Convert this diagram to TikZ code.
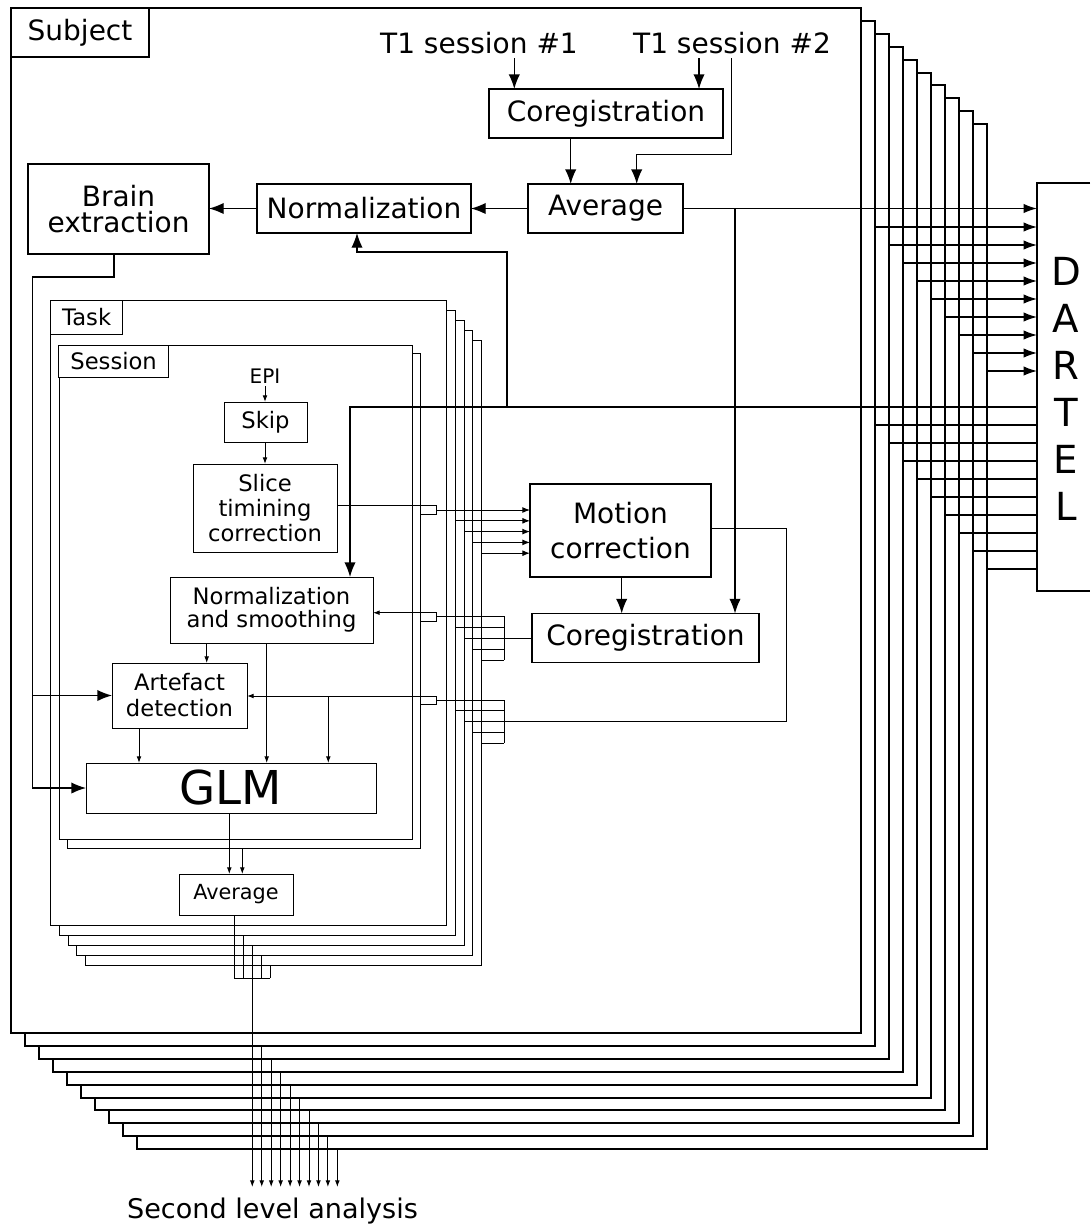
\documentclass[tikz,border=0pt]{standalone}
\usepackage{fontspec}
\setmainfont{DejaVu Sans}
\usetikzlibrary{arrows.meta}
\begin{document}
\begin{tikzpicture}[x=0.75pt,y=-0.75pt,
  every node/.style={inner sep=0pt,outer sep=0pt},
  mainfont/.style={font=\fontsize{21}{25}\selectfont},
  smallfont/.style={font=\fontsize{17}{19}\selectfont},
  bigbox/.style={draw,line width=1.2pt,fill=white,mainfont,align=center},
  smallbox/.style={draw,line width=0.75pt,fill=white,smallfont,align=center},
  subjframe/.style={draw,line width=1.5pt,fill=white},
  thinframe/.style={draw,line width=0.75pt,fill=white},
  conn/.style={line width=1pt},
  tconn/.style={line width=0.75pt},
  bigarr/.style={conn,-{Latex[length=11pt,width=8.5pt]}},
  darr/.style={conn,-{Latex[length=10pt,width=7pt]}},
  smarr/.style={tconn,-{Latex[length=5pt,width=3.6pt]}},
  medarr/.style={tconn,-{Latex[length=5.8pt,width=4.5pt]}},
]
\useasboundingbox (0,0) rectangle (1090,1228);

% subject frames
\foreach \k in {9,8,...,0}
  \draw[subjframe] ({11+14*\k},{8+12.9*\k}) rectangle ({861+14*\k},{1033+12.9*\k});
\node[draw,line width=1.5pt,fill=white,mainfont,minimum width=103.5pt,minimum height=36.75pt] (subj) at (80,32.5) {Subject};

\node[mainfont,anchor=base,inner sep=3.5pt] (t1a) at (479,53) {T1 session \#1};
\node[mainfont,anchor=base,inner sep=3.5pt] (t1b) at (732,53) {T1 session \#2};

\node[bigbox,minimum width=175.5pt,minimum height=36.75pt] (coreg1) at (606,113.5) {Coregistration};
\node[bigbox,minimum width=116.25pt,minimum height=36.75pt] (avg1) at (605.5,208.5) {Average};
\node[bigbox,minimum width=160.5pt,minimum height=36.75pt] (norm1) at (364,208.5) {Normalization};
\node[bigbox,font=\fontsize{21}{20}\selectfont,minimum width=135.75pt,minimum height=67.5pt] (brain) at (118.5,209) {Brain\\extraction};
\node[bigbox,font=\fontsize{21}{26}\selectfont,minimum width=135.75pt,minimum height=69.75pt] (motion) at (620.5,530.5) {Motion\\correction};
\node[bigbox,minimum width=170.25pt,minimum height=36.75pt] (coreg2) at (645.5,638) {Coregistration};

% DARTEL
\node[minimum width=39.75pt,minimum height=306pt] (dartel) at (1063.5,387) {};
\draw[line width=1.5pt] (dartel.north east) -- (dartel.north west) -- (dartel.south west) -- (dartel.south east);
\node[font=\fontsize{29}{35.25}\selectfont,align=center] (dtext) at (1066,388.5) {D\\A\\R\\T\\E\\L};

% task frames
\foreach \k in {4,3,...,0}
  \draw[thinframe] ({50.7+8.65*\k},{300.3+10.1*\k}) rectangle ({446.7+8.75*\k},{925+10*\k});
\node[draw,line width=0.75pt,fill=white,smallfont,minimum width=54pt,minimum height=25.3pt] (task) at (86.7,317.2) {Task};
% session frames
\draw[thinframe] (67.3,353.3) rectangle (420.7,848.3);
\draw[thinframe] (59,345) rectangle (412.3,839.3);
\node[draw,line width=0.75pt,fill=white,smallfont,minimum width=82pt,minimum height=24.5pt] (sess) at (113.6,361.4) {Session};

\node[font=\fontsize{15}{17}\selectfont,anchor=base,inner sep=2.5pt] (epi) at (265,383) {EPI};
\node[smallbox,minimum width=62.25pt,minimum height=30pt] (skip) at (265.5,422) {Skip};
\node[smallbox,font=\fontsize{17}{18.75}\selectfont,minimum width=108pt,minimum height=66pt] (slice) at (265,508) {Slice\\timining\\correction};
\node[smallbox,font=\fontsize{17}{17.6}\selectfont,minimum width=152.25pt,minimum height=49.5pt] (normsm) at (271.5,610) {Normalization\\and smoothing};
\node[smallbox,font=\fontsize{17}{19.5}\selectfont,minimum width=101.25pt,minimum height=48.75pt] (artef) at (179.5,695.5) {Artefact\\detection};
\node[smallbox,font=\fontsize{35}{40}\selectfont,minimum width=217.5pt,minimum height=37.5pt] (glm) at (231,788) {GLM};
\node[smallbox,font=\fontsize{15.6}{18}\selectfont,minimum width=85.5pt,minimum height=30.75pt] (avg2) at (236,894.5) {Average};

\node[font=\fontsize{20.3}{24}\selectfont,anchor=base] (second) at (272.5,1218.3) {Second level analysis};

% top connectors
\draw[bigarr] (t1a.south -| 514.3,0) -- (coreg1.north -| 514.3,0);
\draw[bigarr] (t1b.south -| 699,0) -- (coreg1.north -| 699,0);
\draw[bigarr] (t1b.south -| 731.7,0) -- (731.7,154.3) -- (636.7,154.3) -- (avg1.north -| 636.7,0);
\draw[bigarr] (coreg1.south -| 570.7,0) -- (avg1.north -| 570.7,0);
\draw[bigarr] (avg1.west) -- (norm1.east);
\draw[bigarr] (norm1.west) -- (brain.east |- norm1.west);
\draw[darr] (avg1.east) -- (dartel.west |- avg1.east);
\draw[bigarr] (avg1.east -| 735,0) -- (coreg2.north -| 735,0);
\draw[bigarr] (motion.south -| 621.7,0) -- (coreg2.north -| 621.7,0);

% DARTEL in/out
\foreach \k in {1,...,9}
  \draw[darr] ({861+14*\k},{209+18*\k}) -- (1037,{209+18*\k});
\draw[bigarr] (dartel.west |- 0,407) -- (350,407) -- (normsm.north -| 350,0);
\draw[bigarr] (507,407) -- (507,252) -- (357,252) -- (norm1.south -| 357,0);
\foreach \k in {1,...,9}
  \draw[conn] (1037,{407+18*\k}) -- ({861+14*\k},{407+18*\k});

% brain extraction
\draw[bigarr] (brain.south -| 114,0) -- (114,277) -- (32.7,277) -- (32.7,788) -- (glm.west);
\draw[bigarr] (32.7,695.5) -- (artef.west);

% session level
\draw[smarr] (epi.south) -- (skip.north -| epi.south);
\draw[smarr] (skip.south -| 265,0) -- (slice.north -| 265,0);
\draw[tconn] (slice.east |- 0,505.7) -- (436.7,505.7) -- (436.7,514.3) -- (420.7,514.3);
\draw[medarr] (436.7,510) -- (motion.west |- 0,510);
\foreach \k in {1,...,4}
  \draw[medarr] ({446.7+8.75*\k},{510+10.8*\k}) -- (530,{510+10.8*\k});

\draw[smarr] (436.7,612.7) -- (normsm.east |- 0,612.7);
\draw[tconn] (436.7,612.7) -- (436.7,621) -- (420.7,621);
\draw[tconn] (436.7,616.7) -- (504.3,616.7) -- (504.3,660);
\foreach \k in {1,...,4}
  \draw[tconn] ({446.7+8.75*\k},{616.7+10.83*\k}) -- (504.3,{616.7+10.83*\k});
\draw[tconn] (coreg2.west) -- (504.3,638);

\draw[smarr] (436.7,696) -- (artef.east |- 0,696);
\draw[tconn] (436.7,696) -- (436.7,704.3) -- (420.7,704.3);
\draw[tconn] (436.7,700) -- (504.3,700) -- (504.3,743.3);
\foreach \k in {1,...,4}
  \draw[tconn] ({446.7+8.75*\k},{700+10.83*\k}) -- (504.3,{700+10.83*\k});
\draw[tconn] (motion.east |- 0,528.3) -- (786.7,528.3) -- (786.7,721.7) -- (504.3,721.7);
\draw[smarr] (328.3,696) -- (glm.north -| 328.3,0);

\draw[smarr] (normsm.south -| 206.7,0) -- (artef.north -| 206.7,0);
\draw[smarr] (normsm.south -| 266.7,0) -- (glm.north -| 266.7,0);
\draw[smarr] (artef.south -| 139,0) -- (glm.north -| 139,0);
\draw[smarr] (glm.south -| 229.3,0) -- (avg2.north -| 229.3,0);
\draw[smarr] (242.3,848.3) -- (avg2.north -| 242.3,0);
\draw[tconn] (avg2.south -| 234.3,0) -- (234.3,978.3) -- (270,978.3);
\foreach \k in {1,...,4}
  \draw[tconn] ({234.3+9*\k},{925+10*\k}) -- ({234.3+9*\k},978.3);
\draw[smarr] (252.3,978.3) -- (252.3,1187);
\foreach \k in {1,...,9}
  \draw[smarr] ({252.3+9.45*\k},{1033+12.9*\k}) -- ({252.3+9.45*\k},1187);
\end{tikzpicture}
\end{document}
